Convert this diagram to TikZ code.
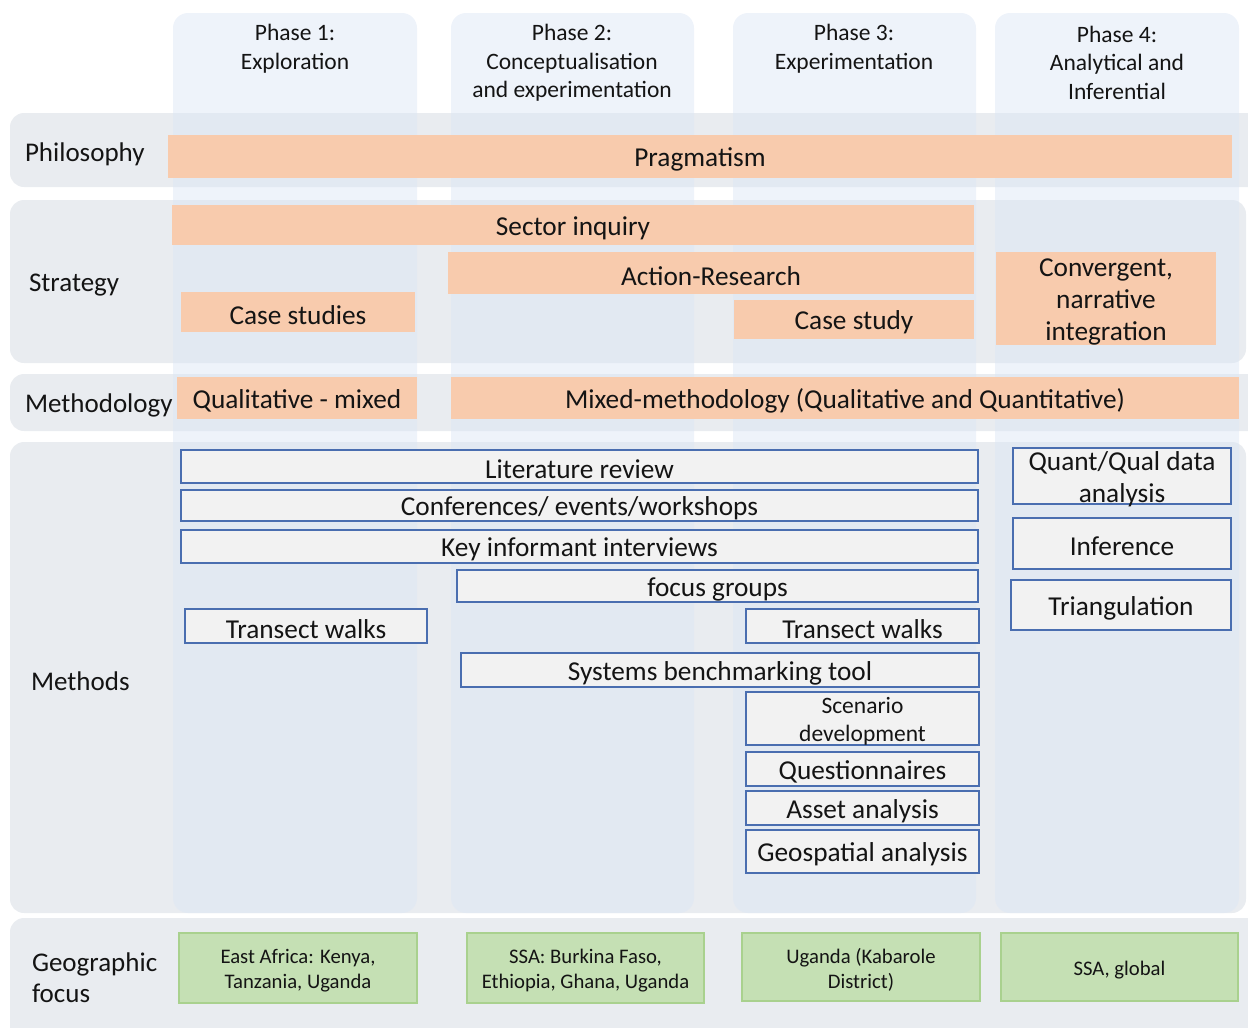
\documentclass[tikz,border=0pt]{standalone}
\usepackage{fontspec}
\setmainfont{Carlito}
\definecolor{rowgray}{HTML}{E9ECF0}
\definecolor{colblue}{HTML}{DDE7F5}
\definecolor{orangebar}{HTML}{F8CBAD}
\definecolor{greenfill}{HTML}{C5E0B4}
\definecolor{greenline}{HTML}{A9D18E}
\definecolor{methodfill}{HTML}{F2F2F2}
\definecolor{methodline}{HTML}{4A6EB0}
\definecolor{txt}{HTML}{141414}
% box given by its corners (x1,y1) and (x2,y2) in pixel units,
% with its text set slightly below the geometric centre
\newcommand\cornerbox[8]{%
  \node[#2, minimum width={(#6-#4)*1pt}, minimum height={(#7-#5)*1pt}]
    (#1) at ({(#4+#6)/2},{(#5+#7)/2}) {};
  \node[#3, yshift=-3pt] (#1-t) at (#1.center) {#8};}
\begin{document}
\begin{tikzpicture}[x=1pt,y=-1pt,
  every node/.style={text=txt, inner sep=0pt, outer sep=0pt},
  rowband/.style={fill=rowgray, rounded corners=14pt},
  phasecol/.style={fill=colblue, fill opacity=0.5, rounded corners=15pt},
  phasehead/.style={align=center, yshift=-2pt, font=\fontsize{23.5}{28.5}\selectfont},
  rowlabel/.style={anchor=west, align=left, yshift=-2.5pt, font=\fontsize{27}{31}\selectfont},
  obar/.style={fill=orangebar},
  otext/.style={align=center, font=\fontsize{27.3}{32}\selectfont},
  mbox/.style={fill=methodfill, draw=methodline, line width=1.3pt},
  mtext/.style={align=center, font=\fontsize{27.3}{32}\selectfont},
  msmall/.style={align=center, font=\fontsize{23.5}{28}\selectfont},
  gbox/.style={fill=greenfill, draw=greenline, line width=1.3pt},
  gtext/.style={align=center, font=\fontsize{20.7}{25}\selectfont}]
\useasboundingbox (0,0) rectangle (1248,1028);
\clip (0,0) rectangle (1248,1028);

% row bands
\fill[rowband] (10,113) rectangle (1275,187);
\fill[rowband] (10,200) rectangle (1246,363);
\fill[rowband] (10,374) rectangle (1275,431);
\fill[rowband] (10,442) rectangle (1246,913);
\fill[rowband] (10,918) rectangle (1275,1060);

% phase columns
\fill[phasecol] (173,13) rectangle (417,913);
\fill[phasecol] (451,13) rectangle (694,913);
\fill[phasecol] (733,13) rectangle (976,913);
\fill[phasecol] (995,13) rectangle (1239,913);

% phase headings
\node[phasehead] (ph1) at (295,46.5) {Phase 1:\\Exploration};
\node[phasehead] (ph2) at (572,61) {Phase 2:\\Conceptualisation\\and experimentation};
\node[phasehead] (ph3) at (854,46.5) {Phase 3:\\Experimentation};
\node[phasehead] (ph4) at (1117,60.5) {Phase 4:\\Analytical and\\Inferential};

% row labels
\node[rowlabel] (lphil) at (25,151.5) {Philosophy};
\node[rowlabel] (lstrat) at (29,282.5) {Strategy};
\node[rowlabel] (lmethy) at (25,402.5) {Methodology};
\node[rowlabel] (lmeth) at (31,678.5) {Methods};
\node[rowlabel, font=\fontsize{27}{31.5}\selectfont] (lgeo) at (32,975) {Geographic\\focus};

% philosophy, strategy, methodology
\cornerbox{prag}{obar}{otext}{168}{135}{1232}{178}{Pragmatism}
\cornerbox{sect}{obar}{otext}{172}{205}{974}{245}{Sector inquiry}
\cornerbox{actr}{obar}{otext}{448}{252}{974}{294}{Action-Research}
\cornerbox{cases}{obar}{otext}{181}{292}{415}{332}{Case studies}
\cornerbox{case}{obar}{otext}{734}{300}{974}{339}{Case study}
\cornerbox{conv}{obar}{otext}{996}{252}{1216}{345}{Convergent,\\narrative\\integration}
\cornerbox{qual}{obar}{otext}{177}{377}{417}{419}{Qualitative - mixed}
\cornerbox{mixed}{obar}{otext}{451}{377}{1239}{419}{Mixed-methodology (Qualitative and Quantitative)}

% methods
\cornerbox{lit}{mbox}{mtext}{181}{450}{978}{483}{Literature review}
\cornerbox{conf}{mbox}{mtext}{181}{490}{978}{521}{Conferences/ events/workshops}
\cornerbox{kii}{mbox}{mtext}{181}{530}{978}{563}{Key informant interviews}
\cornerbox{fg}{mbox}{mtext}{457}{570}{978}{602}{focus groups}
\cornerbox{tw1}{mbox}{mtext}{185}{609}{427}{643}{Transect walks}
\cornerbox{tw2}{mbox}{mtext}{746}{609}{979}{643}{Transect walks}
\cornerbox{sbt}{mbox}{mtext}{461}{653}{979}{687}{Systems benchmarking tool}
\cornerbox{scen}{mbox}{msmall}{746}{692}{979}{745}{Scenario\\development}
\cornerbox{quest}{mbox}{mtext}{746}{752}{979}{786}{Questionnaires}
\cornerbox{asset}{mbox}{mtext}{746}{791}{979}{825}{Asset analysis}
\cornerbox{geosp}{mbox}{mtext}{746}{830}{979}{873}{Geospatial analysis}
\cornerbox{qq}{mbox}{mtext}{1013}{448}{1231}{504}{Quant/Qual data\\analysis}
\cornerbox{inf}{mbox}{mtext}{1013}{518}{1231}{569}{Inference}
\cornerbox{tri}{mbox}{mtext}{1011}{580}{1231}{630}{Triangulation}

% geographic focus
\cornerbox{g1}{gbox}{gtext}{179}{933}{417}{1003}{East Africa: Kenya,\\Tanzania, Uganda}
\cornerbox{g2}{gbox}{gtext}{467}{933}{704}{1003}{SSA: Burkina Faso,\\Ethiopia, Ghana, Uganda}
\cornerbox{g3}{gbox}{gtext}{742}{933}{980}{1001}{Uganda (Kabarole\\District)}
\cornerbox{g4}{gbox}{gtext}{1001}{933}{1238}{1001}{SSA, global}
\end{tikzpicture}
\end{document}
